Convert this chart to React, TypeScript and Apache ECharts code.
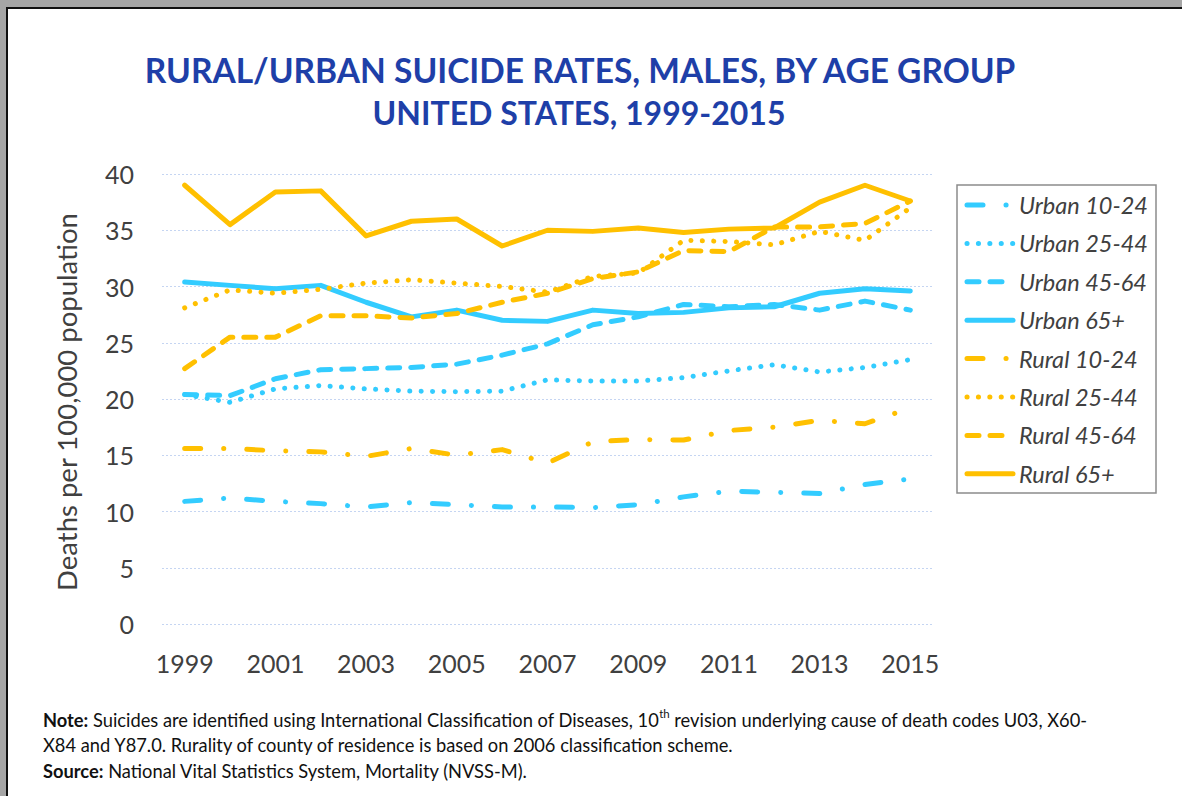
import React, { useEffect, useRef } from "react";
import * as echarts from "echarts";

const years = ["1999","2000","2001","2002","2003","2004","2005","2006","2007","2008","2009","2010","2011","2012","2013","2014","2015"];

const urban1024 = [10.9, 11.2, 10.9, 10.7, 10.4, 10.8, 10.6, 10.4, 10.4, 10.35, 10.6, 11.3, 11.8, 11.7, 11.6, 12.4, 12.9];
const urban2544 = [20.4, 19.7, 20.9, 21.2, 20.9, 20.7, 20.65, 20.7, 21.7, 21.6, 21.6, 21.9, 22.5, 23.05, 22.4, 22.8, 23.5];
const urban4564 = [20.4, 20.3, 21.8, 22.6, 22.7, 22.8, 23.1, 23.9, 24.9, 26.6, 27.3, 28.4, 28.2, 28.4, 27.9, 28.7, 27.9];
const urban65 = [30.4, 30.1, 29.8, 30.1, 28.6, 27.3, 27.9, 27.0, 26.9, 27.9, 27.6, 27.7, 28.1, 28.2, 29.4, 29.8, 29.6];
const rural1024 = [15.6, 15.6, 15.4, 15.3, 14.9, 15.6, 15.0, 15.5, 14.3, 16.2, 16.4, 16.35, 17.2, 17.5, 18.1, 17.8, 19.2];
const rural2544 = [28.1, 29.7, 29.4, 29.75, 30.3, 30.6, 30.3, 30.0, 29.5, 30.9, 31.2, 34.1, 34.0, 33.7, 34.9, 34.1, 37.0];
const rural4564 = [22.7, 25.5, 25.5, 27.4, 27.4, 27.2, 27.6, 28.6, 29.4, 30.7, 31.3, 33.2, 33.1, 35.3, 35.3, 35.6, 37.6];
const rural65 = [39.0, 35.5, 38.4, 38.5, 34.5, 35.8, 36.0, 33.6, 35.0, 34.9, 35.2, 34.8, 35.1, 35.2, 37.5, 39.0, 37.6];

const seriesNames = ["Urban 10-24","Urban 25-44","Urban 45-64","Urban 65+","Rural 10-24","Rural 25-44","Rural 45-64","Rural 65+"];
const seriesData = [urban1024, urban2544, urban4564, urban65, rural1024, rural2544, rural4564, rural65];

const titleLines = ["RURAL/URBAN SUICIDE RATES, MALES, BY AGE GROUP", "UNITED STATES, 1999-2015"];
const yAxisTitle = "Deaths per 100,000 population";

const BLUE = "#33CCFF";
const YELLOW = "#FFC000";
const dashDot = [16, 23, 0.1, 23];
const dotted = [0.1, 11.3];
const dashed = [12, 11];
const styles: any[] = [dashDot, dotted, dashed, null, dashDot, dotted, dashed, null];

export default function App() {
  const ref = useRef<HTMLDivElement>(null);
  useEffect(() => {
    if (!ref.current) return;
    const chart = echarts.init(ref.current, null, { renderer: "svg" });
    const font = "Lato, 'Open Sans', sans-serif";
    const LW = 5;
    const series = seriesNames.map((name, i) => ({
      name,
      type: "line",
      data: seriesData[i],
      symbol: "none",
      showSymbol: false,
      lineStyle: {
        color: i < 4 ? BLUE : YELLOW,
        width: LW,
        type: styles[i] || "solid",
        cap: "round",
        join: "round",
      },
      itemStyle: { color: i < 4 ? BLUE : YELLOW },
      z: 2 + i,
    }));

    const legendTop = 185;
    const legendLeft = 957;
    const legendItems: any[] = [
      {
        type: "rect",
        shape: { x: legendLeft, y: legendTop, width: 199, height: 308 },
        style: { fill: "#ffffff", stroke: "#8c8c8c", lineWidth: 1.5 },
      },
    ];
    seriesNames.forEach((name, i) => {
      const cy = 205 + i * 38.4;
      const st: any = { stroke: i < 4 ? BLUE : YELLOW, lineWidth: LW, lineCap: "round" };
      if (styles[i]) st.lineDash = styles[i];
      legendItems.push({ type: "line", shape: { x1: 967, y1: cy, x2: 1013, y2: cy }, style: st });
      legendItems.push({
        type: "text",
        x: 1019,
        y: cy,
        style: { text: name, fill: "#404040", font: "italic 23.5px " + font, textVerticalAlign: "middle" },
      });
    });

    chart.setOption({
      animation: false,
      backgroundColor: "#ffffff",
      grid: { left: 162, right: 249, top: 174, bottom: 172, containLabel: false },
      xAxis: {
        type: "category",
        data: years,
        boundaryGap: true,
        axisLine: { show: false },
        axisTick: { show: false },
        axisLabel: { interval: 1, color: "#404040", fontSize: 25, fontFamily: font, margin: 26 },
        splitLine: { show: false },
      },
      yAxis: {
        type: "value",
        min: 0,
        max: 40,
        interval: 5,
        axisLine: { show: false },
        axisTick: { show: false },
        axisLabel: { color: "#404040", fontSize: 25, fontFamily: font, margin: 28 },
        splitLine: { show: true, lineStyle: { color: "#C5D5F2", width: 1, type: [2, 2] } },
      },
      graphic: [
        {
          type: "text",
          x: 580,
          y: 70,
          style: { text: titleLines[0], fill: "#1E3FA8", font: "bold 33.5px " + font, textAlign: "center", textVerticalAlign: "middle" },
        },
        {
          type: "text",
          x: 579,
          y: 112,
          style: { text: titleLines[1], fill: "#1E3FA8", font: "bold 32px " + font, textAlign: "center", textVerticalAlign: "middle" },
        },
        {
          type: "text",
          x: 66,
          y: 402,
          rotation: Math.PI / 2,
          style: { text: yAxisTitle, fill: "#404040", font: "27.5px " + font, textAlign: "center", textVerticalAlign: "middle" },
        },
        {
          type: "text",
          x: 43,
          y: 707,
          style: {
            text: "{b|Note:} Suicides are identified using International Classification of Diseases, 10{sup|th} revision underlying cause of death codes U03, X60-\nX84 and Y87.0. Rurality of county of residence is based on 2006 classification scheme.\n{b|Source:} National Vital Statistics System, Mortality (NVSS-M).",
            fill: "#111111",
            font: "18.3px " + font,
            lineHeight: 25.5,
            rich: {
              b: { fontWeight: "bold", fontSize: 18.3, fontFamily: font, fill: "#111111", lineHeight: 25.5 },
              sup: { fontSize: 11.5, fontFamily: font, fill: "#111111", verticalAlign: "top", lineHeight: 18 },
            },
          },
        },
        ...legendItems,
        { type: "rect", z: 100, shape: { x: 0, y: 0, width: 1182, height: 7 }, style: { fill: "#A6A6A6" } },
        { type: "rect", z: 100, shape: { x: 0, y: 0, width: 6, height: 796 }, style: { fill: "#A6A6A6" } },
        { type: "rect", z: 101, shape: { x: 6, y: 7, width: 1176, height: 2 }, style: { fill: "#111111" } },
        { type: "rect", z: 101, shape: { x: 6, y: 7, width: 2, height: 789 }, style: { fill: "#111111" } },
      ],
      series,
    });
    return () => chart.dispose();
  }, []);
  return <div ref={ref} style={{ position: "fixed", left: 0, top: 0, width: 1182, height: 796 }} />;
}
